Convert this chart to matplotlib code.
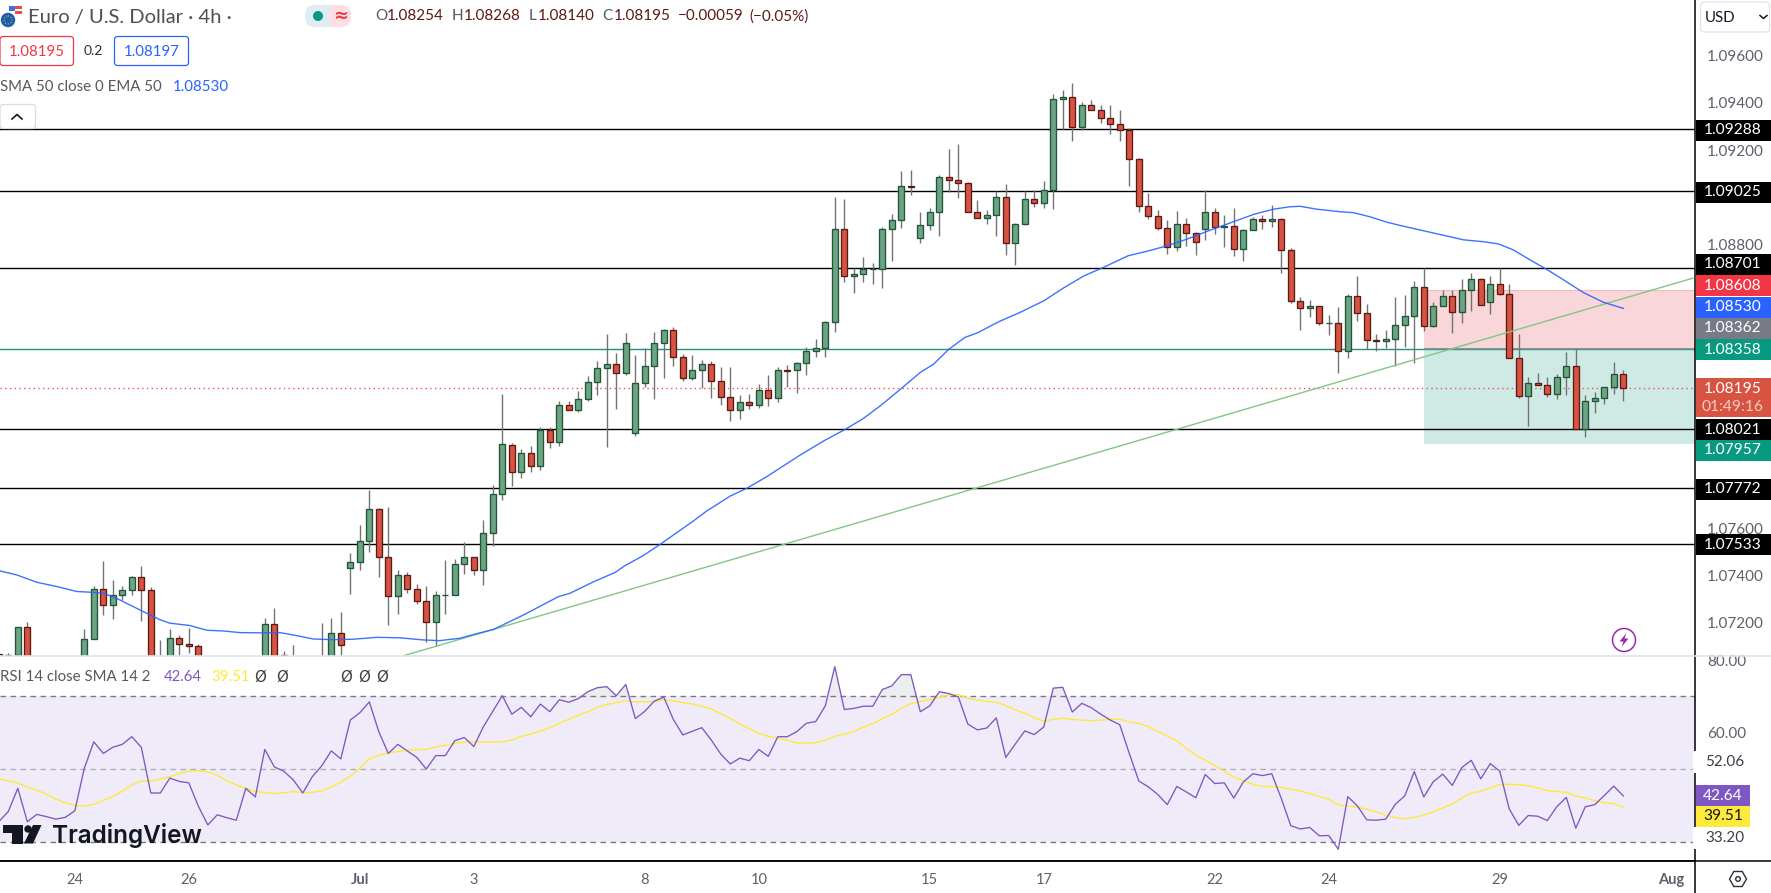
import matplotlib
matplotlib.use("Agg")
import matplotlib.pyplot as plt
from matplotlib.patches import Rectangle, FancyBboxPatch, Polygon, Circle

plt.rcParams['font.family'] = ['Lato', 'DejaVu Sans']

W, H = 1771, 893

opens = [
 1.07068,1.07040,1.07062,1.07181,1.07030,1.07010,1.06990,1.07020,1.07000,1.07035,
 1.07130,1.07341,1.07274,1.07316,1.07337,1.07392,1.07337,1.07020,1.07042,1.07134,
 1.07109,1.07100,1.07040,1.07010,1.07030,1.07005,1.07020,1.07000,1.07040,1.07193,
 1.07062,1.07030,1.07040,1.07010,1.07020,1.07030,1.07155,1.07430,1.07456,1.07545,
 1.07680,1.07477,1.07312,1.07401,1.07341,1.07291,1.07202,1.07316,1.07316,1.07447,
 1.07477,1.07422,1.07578,1.07744,1.07954,1.07836,1.07920,1.07861,1.08015,1.07966,
 1.08120,1.08101,1.08145,1.08217,1.08276,1.08293,1.08255,1.08001,1.08213,1.08285,
 1.08382,1.08437,1.08323,1.08234,1.08268,1.08293,1.08221,1.08153,1.08098,1.08132,
 1.08120,1.08183,1.08149,1.08268,1.08268,1.08297,1.08348,1.08361,1.08471,1.08864,
 1.08665,1.08674,1.08695,1.08695,1.08864,1.08902,1.09046,1.08826,1.08881,1.08936,
 1.09084,1.09072,1.09059,1.08936,1.08911,1.08924,1.09000,1.08805,1.08886,1.08991,
 1.08974,1.09029,1.09415,1.09423,1.09296,1.09389,1.09368,1.09334,1.09309,1.09283,
 1.09161,1.08962,1.08919,1.08869,1.08788,1.08886,1.08847,1.08864,1.08936,1.08874,
 1.08877,1.08780,1.08860,1.08907,1.08898,1.08907,1.08775,1.08560,1.08530,1.08538,
 1.08467,1.08467,1.08348,1.08581,1.08509,1.08395,1.08390,1.08399,1.08459,1.08497,
 1.08620,1.08455,1.08539,1.08582,1.08514,1.08607,1.08654,1.08556,1.08632,1.08590,
 1.08319,1.08159,1.08214,1.08205,1.08167,1.08239,1.08286,1.08019,1.08138,1.08150,
 1.08197,1.08254]
highs = [
 1.07068,1.07073,1.07181,1.07203,1.07045,1.07040,1.07030,1.07050,1.07045,1.07172,
 1.07356,1.07461,1.07381,1.07356,1.07398,1.07440,1.07351,1.07127,1.07174,1.07148,
 1.07178,1.07110,1.07050,1.07045,1.07050,1.07040,1.07050,1.07040,1.07219,1.07261,
 1.07081,1.07106,1.07050,1.07045,1.07198,1.07219,1.07244,1.07494,1.07614,1.07762,
 1.07684,1.07690,1.07423,1.07413,1.07363,1.07356,1.07333,1.07466,1.07468,1.07542,
 1.07477,1.07635,1.07783,1.08168,1.07960,1.07935,1.07947,1.08026,1.08026,1.08138,
 1.08138,1.08182,1.08244,1.08307,1.08421,1.08340,1.08426,1.08333,1.08362,1.08430,
 1.08441,1.08451,1.08335,1.08333,1.08311,1.08307,1.08282,1.08282,1.08163,1.08167,
 1.08210,1.08248,1.08280,1.08290,1.08303,1.08366,1.08400,1.08476,1.09001,1.08993,
 1.08699,1.08747,1.08722,1.08873,1.08929,1.09111,1.09115,1.08936,1.08955,1.09093,
 1.09204,1.09225,1.09065,1.08989,1.08946,1.09027,1.09056,1.08890,1.09027,1.09031,
 1.09069,1.09437,1.09454,1.09484,1.09403,1.09412,1.09391,1.09391,1.09369,1.09292,
 1.09165,1.09018,1.08946,1.08904,1.08942,1.08912,1.08853,1.09031,1.08955,1.08925,
 1.08955,1.08864,1.08918,1.08925,1.08967,1.08912,1.08785,1.08578,1.08565,1.08541,
 1.08502,1.08536,1.08591,1.08667,1.08548,1.08421,1.08438,1.08578,1.08587,1.08647,
 1.08700,1.08558,1.08606,1.08608,1.08654,1.08680,1.08660,1.08668,1.08700,1.08632,
 1.08421,1.08240,1.08256,1.08238,1.08252,1.08345,1.08359,1.08164,1.08176,1.08197,
 1.08304,1.08268]
lows = [
 1.07020,1.07030,1.07050,1.07010,1.06990,1.06960,1.06950,1.06980,1.06970,1.07010,
 1.07130,1.07233,1.07217,1.07296,1.07318,1.07209,1.07000,1.06990,1.07020,1.07057,
 1.07073,1.07020,1.06990,1.06980,1.06990,1.06970,1.06985,1.06975,1.07010,1.07010,
 1.07010,1.06990,1.06990,1.06980,1.06990,1.07000,1.07049,1.07323,1.07423,1.07497,
 1.07395,1.07191,1.07237,1.07327,1.07279,1.07120,1.07102,1.07237,1.07316,1.07406,
 1.07402,1.07360,1.07526,1.07719,1.07779,1.07813,1.07836,1.07847,1.07940,1.07947,
 1.08101,1.08093,1.08139,1.08163,1.07945,1.08104,1.08249,1.07991,1.08199,1.08148,
 1.08237,1.08287,1.08224,1.08228,1.08194,1.08152,1.08122,1.08055,1.08063,1.08105,
 1.08110,1.08118,1.08135,1.08197,1.08173,1.08249,1.08323,1.08323,1.08431,1.08643,
 1.08596,1.08643,1.08634,1.08617,1.08732,1.08871,1.09011,1.08808,1.08863,1.08838,
 1.09024,1.08998,1.08936,1.08911,1.08888,1.08838,1.08757,1.08715,1.08881,1.08960,
 1.08956,1.08952,1.09288,1.09240,1.09283,1.09368,1.09316,1.09266,1.09240,1.09049,
 1.08939,1.08910,1.08862,1.08761,1.08774,1.08795,1.08757,1.08821,1.08846,1.08791,
 1.08753,1.08732,1.08860,1.08867,1.08876,1.08681,1.08551,1.08440,1.08495,1.08458,
 1.08419,1.08258,1.08321,1.08478,1.08359,1.08351,1.08364,1.08286,1.08365,1.08301,
 1.08436,1.08451,1.08539,1.08425,1.08470,1.08517,1.08544,1.08508,1.08585,1.08319,
 1.08150,1.08032,1.08205,1.08154,1.08146,1.08163,1.08019,1.07984,1.08087,1.08125,
 1.08167,1.08140]
closes = [
 1.07040,1.07062,1.07181,1.07030,1.07010,1.06990,1.07020,1.07000,1.07025,1.07130,
 1.07341,1.07274,1.07316,1.07337,1.07392,1.07337,1.07028,1.07040,1.07134,1.07109,
 1.07100,1.07040,1.07010,1.07030,1.07005,1.07020,1.07000,1.07030,1.07193,1.07040,
 1.07040,1.07040,1.07010,1.07030,1.07040,1.07155,1.07104,1.07456,1.07545,1.07680,
 1.07477,1.07312,1.07401,1.07341,1.07291,1.07202,1.07316,1.07318,1.07447,1.07477,
 1.07422,1.07578,1.07744,1.07955,1.07836,1.07920,1.07861,1.08015,1.07966,1.08120,
 1.08101,1.08145,1.08217,1.08276,1.08293,1.08255,1.08382,1.08213,1.08285,1.08382,
 1.08437,1.08323,1.08234,1.08268,1.08293,1.08221,1.08153,1.08098,1.08132,1.08120,
 1.08183,1.08149,1.08268,1.08266,1.08297,1.08348,1.08361,1.08471,1.08864,1.08665,
 1.08674,1.08695,1.08697,1.08864,1.08902,1.09046,1.09044,1.08881,1.08936,1.09084,
 1.09072,1.09059,1.08936,1.08911,1.08924,1.09000,1.08805,1.08886,1.08991,1.08974,
 1.09029,1.09415,1.09423,1.09296,1.09389,1.09368,1.09334,1.09309,1.09283,1.09161,
 1.08962,1.08919,1.08869,1.08788,1.08886,1.08847,1.08809,1.08936,1.08873,1.08877,
 1.08780,1.08860,1.08907,1.08898,1.08907,1.08775,1.08560,1.08530,1.08538,1.08467,
 1.08469,1.08348,1.08581,1.08509,1.08395,1.08393,1.08399,1.08458,1.08497,1.08620,
 1.08455,1.08539,1.08582,1.08514,1.08607,1.08654,1.08544,1.08632,1.08590,1.08319,
 1.08159,1.08214,1.08205,1.08167,1.08239,1.08286,1.08019,1.08138,1.08150,1.08197,
 1.08252,1.08195]

ema_bars = [0.13,1.9,4.0,6.1,8.2,9.6,11.0,12.4,15.2,17.0,18.0,20.1,21.9,23.6,25.4,27.5,29.6,31.4,33.1,35.2,
 37.3,39.8,42.2,44.7,46.4,48.5,50.65,52.05,55.2,58.9,60.1,62.6,64.9,65.9,67.8,69.6,73.1,74.5,77.0,78.7,
 80.8,84.3,87.0,89.1,91.0,92.9,95.0,97.0,98.4,100.0,101.7,103.1,104.7,105.4,107.5,110.0,112.1,114.2,116.3,118.9,
 120.8,122.9,125.0,127.2,129.3,132.1,134.2,135.9,137.0,138.7,141.2,142.6,144.3,146.1,147.5,154.2,156.3,157.85,159.4,161.2,
 162.9,164.7,166.8,168.9,171.0]
ema_values = [1.07419,1.07402,1.07371,1.07353,1.07332,1.07329,1.07325,1.07303,1.07247,1.07212,1.07198,1.07188,1.07168,1.07165,1.07158,1.07157,1.07158,1.07145,1.07131,1.07128,
 1.07130,1.07138,1.07136,1.07127,1.07124,1.07134,1.07157,1.07171,1.07232,1.07310,1.07324,1.07373,1.07413,1.07441,1.07483,1.07531,1.07630,1.07672,1.07736,1.07768,
 1.07817,1.07908,1.07973,1.08018,1.08064,1.08121,1.08191,1.08259,1.08294,1.08357,1.08407,1.08428,1.08462,1.08476,1.08513,1.08562,1.08617,1.08667,1.08704,1.08753,
 1.08771,1.08794,1.08822,1.08856,1.08887,1.08928,1.08950,1.08960,1.08962,1.08950,1.08939,1.08935,1.08918,1.08895,1.08881,1.08820,1.08812,1.08803,1.08778,1.08735,
 1.08696,1.08651,1.08597,1.08556,1.08530]

rsi = [35.5,38.3,44.7,35.5,37.5,36.9,36.2,36.7,38.5,50.2,57.5,54.3,56.0,56.8,58.9,56.0,43.4,43.4,47.5,46.6,
 46.2,39.8,34.6,37.4,36.6,35.9,44.7,42.3,55.4,50.6,49.4,47.0,43.4,47.9,50.9,55.0,52.8,63.5,65.5,68.5,
 60.3,54.3,56.8,55.0,53.2,50.0,53.7,53.7,57.8,58.7,56.2,61.6,65.9,70.2,65.1,67.0,64.4,67.9,65.8,69.1,
 68.4,69.4,71.3,72.4,72.7,70.2,73.3,63.9,65.9,68.7,69.8,63.7,59.4,60.4,61.4,58.0,54.1,51.4,53.0,52.3,
 55.4,53.5,58.9,58.9,60.3,62.6,63.1,67.4,78.2,66.4,66.7,67.3,67.3,71.9,72.9,76.0,76.0,65.8,67.4,71.3,
 70.8,69.9,62.4,60.8,61.3,64.1,53.2,56.9,60.5,59.5,61.6,72.3,72.5,65.7,68.1,66.9,65.1,63.5,62.2,54.3,
 46.7,45.1,43.0,40.2,45.2,43.7,42.1,48.5,46.0,46.2,42.0,46.4,48.7,48.2,48.7,41.9,34.4,33.5,33.9,31.6,
 31.7,27.9,42.4,39.9,36.0,35.9,36.2,40.3,42.6,49.3,42.3,46.5,48.6,45.5,50.4,52.4,47.3,51.5,49.4,39.0,
 34.5,37.2,37.0,35.8,39.6,42.2,33.7,39.6,40.2,42.7,45.3,42.6]
rsi_sma = [47.4,46.7,46.2,45.0,44.2,43.1,41.7,40.7,40.0,39.8,40.3,41.4,42.4,43.9,45.6,46.7,46.7,47.2,47.9,48.8,
 49.4,49.6,49.2,48.3,46.8,45.6,44.7,43.9,43.5,43.2,43.5,43.8,43.5,43.6,44.0,45.1,46.4,48.0,50.2,52.7,
 53.8,54.5,54.8,55.2,55.3,55.4,56.1,56.5,57.1,57.4,57.5,57.5,57.4,57.5,58.0,59.0,59.6,60.5,61.3,62.6,
 63.7,64.9,65.8,66.9,67.8,68.3,68.8,68.5,68.5,68.6,69.1,68.8,68.3,67.9,67.3,66.6,65.2,63.9,62.5,61.1,
 59.8,59.0,58.5,57.9,57.2,57.1,57.3,57.9,59.0,59.6,60.4,61.5,62.5,63.9,65.1,66.7,68.0,68.6,69.1,69.7,
 70.4,70.5,69.5,69.0,68.6,68.4,67.5,66.3,65.4,64.1,63.2,63.7,64.0,63.7,63.5,63.3,63.5,63.7,63.7,63.0,
 62.6,61.7,60.3,59.1,57.8,55.7,53.8,52.4,50.9,49.4,47.9,46.8,45.8,45.2,45.2,45.0,44.4,44.0,43.2,42.4,
 41.7,40.1,39.8,39.5,38.9,38.2,37.3,36.6,36.3,36.7,37.3,38.2,39.3,40.4,42.0,43.5,43.8,44.8,45.7,45.8,
 45.7,45.4,44.8,44.0,43.8,43.6,42.6,42.0,41.3,40.7,40.5,39.5]

black_levels = [1.09288, 1.09025, 1.08701, 1.08021, 1.07772, 1.07533]
teal_level = 1.08358
last_price = 1.08195
stop_price = 1.08608
target_price = 1.07957
position_start_bar = 150
trend_bars = [42.6, 178.5]
trend_prices = [1.07060, 1.08660]
price_ticks = [1.072, 1.074, 1.076, 1.088, 1.092, 1.094, 1.096]
date_bars = [8,20,38,50,68,80,98,110,128,140,158,176]
date_labels = ['24','26','Jul','3','8','10','15','17','22','24','29','Aug']
rsi_ticks = [80, 60]

fig = plt.figure(figsize=(W/100, H/100), dpi=100, facecolor='white')
def axrect(x0, y0, x1, y1):
    return [x0/W, 1-y1/H, (x1-x0)/W, (y1-y0)/H]

XLIM = (0.126, 178.55)
ax = fig.add_axes(axrect(0, 0, 1695, 656))
rs = fig.add_axes(axrect(0, 656.5, 1695, 861))
ui = fig.add_axes([0, 0, 1, 1], zorder=20)
ui.set_xlim(0, W); ui.set_ylim(H, 0); ui.axis('off'); ui.patch.set_alpha(0)

# ---- price pane
ax.set_xlim(*XLIM); ax.set_ylim(1.07059, 1.09835)
bars = list(range(len(opens)))
GREEN, GEDGE, RED, REDGE, WICK = '#6BA583', '#225437', '#D75442', '#5B1A13', '#737375'
ax.add_patch(Rectangle((position_start_bar, teal_level), XLIM[1]-position_start_bar, stop_price-teal_level,
                       fc='#f9d6d9', ec='none', zorder=1))
ax.add_patch(Rectangle((position_start_bar, target_price), XLIM[1]-position_start_bar, teal_level-target_price,
                       fc='#cfeae4', ec='none', zorder=1))
ax.hlines(stop_price, position_start_bar, XLIM[1], color='#f4b8bd', lw=0.8, zorder=1.5)
for lv in black_levels:
    ax.axhline(lv, color='black', lw=1.0, zorder=2)
ax.axhline(teal_level, color='#22917c', lw=1.0, zorder=2)
ax.hlines(teal_level, position_start_bar, XLIM[1], color='#6f8f8c', lw=1.2, zorder=2.1)
ax.vlines(bars, lows, highs, color=WICK, lw=1.0, zorder=3)
cols = [GREEN if c >= o else RED for o, c in zip(opens, closes)]
edges = [GEDGE if c >= o else REDGE for o, c in zip(opens, closes)]
ax.bar(bars, [abs(c-o) for o, c in zip(opens, closes)], bottom=[min(o, c) for o, c in zip(opens, closes)],
       width=0.6, color=cols, edgecolor=edges, linewidth=0.95, zorder=4)
ax.plot(trend_bars, trend_prices, color='#81c784', lw=1.0, zorder=5, solid_capstyle='butt')
ax.plot(ema_bars, ema_values, color='#2962ff', lw=1.0, alpha=0.9, zorder=5.2)
ax.axhline(last_price, color='#ef5350', lw=1.0, ls=(0, (1, 2.4)), zorder=3.5)

ax.yaxis.tick_right()
ax.set_yticks(price_ticks)
ax.set_yticklabels(['%.5f' % t for t in price_ticks])
ax.tick_params(axis='y', length=0, pad=8.5, labelsize=11, labelcolor='#5d606b')
ax.set_xticks([])
for s in ['top', 'left', 'bottom']:
    ax.spines[s].set_visible(False)
ax.spines['right'].set_color('black'); ax.spines['right'].set_linewidth(1.1)

# ---- RSI pane
rs.set_xlim(*XLIM); rs.set_ylim(24.67, 81.0)
rs.axhspan(30, 70, color='#7e57c2', alpha=0.115, lw=0, zorder=1)
rs.axhline(70, color='#787b86', lw=1.0, ls=(0, (4, 3.2)), zorder=2)
rs.axhline(50, color='#787b86', lw=1.0, ls=(0, (4, 3.2)), alpha=0.55, zorder=2)
rs.axhline(30, color='#787b86', lw=1.0, ls=(0, (4, 3.2)), zorder=2)
rs.fill_between(bars, 70, rsi, where=[v > 70 for v in rsi], interpolate=True, color='#e6e7e9', alpha=0.75, lw=0, zorder=1.5)
rs.plot(bars, rsi_sma, color='#fdea3c', lw=1.0, zorder=3)
rs.plot(bars, rsi, color='#7e57c2', lw=0.95, zorder=4)
rs.yaxis.tick_right()
rs.set_yticks(rsi_ticks)
rs.set_yticklabels(['%.2f' % t for t in rsi_ticks])
rs.tick_params(axis='y', length=0, pad=8.5, labelsize=11, labelcolor='#5d606b')
rs.set_xticks(date_bars)
rs.set_xticklabels(date_labels)
rs.tick_params(axis='x', length=0, pad=8.5, labelsize=10.5, labelcolor='#5d606b')
for lab in rs.get_xticklabels():
    if lab.get_text() in ('Jul', 'Aug'):
        lab.set_fontweight('bold')
for s in ['top', 'left']:
    rs.spines[s].set_visible(False)
rs.spines['right'].set_color('black'); rs.spines['right'].set_linewidth(1.1)
rs.spines['bottom'].set_color('black'); rs.spines['bottom'].set_linewidth(1.1)

# ---- chrome
ui.plot([0, W], [656, 656], color='#e0e3eb', lw=1.2)
ui.plot([0, W], [861, 861], color='black', lw=1.1)
ui.plot([1695.5, 1695.5], [861, 893], color='black', lw=1.1)

def tag(yc, txt, fc, tc='white', x1=W, h=21):
    ui.add_patch(Rectangle((1695.8, yc-h/2), x1-1695.8, h, fc=fc, ec='none', zorder=6))
    ui.text((1696+x1)/2 if x1 != W else 1732.5, yc, txt, color=tc, ha='center', va='center', fontsize=11.2, zorder=7)

tag(130, '1.09288', '#000000')
tag(192, '1.09025', '#000000')
tag(264.5, '1.08701', '#000000')
tag(285.5, '1.08608', '#f23645')
tag(307, '1.08530', '#2962ff')
tag(328.3, '1.08362', '#787b86')
tag(349.6, '1.08358', '#089981')
ui.add_patch(Rectangle((1695.8, 378), W-1695.8, 38.7, fc='#d75442', ec='none', zorder=6))
ui.text(1732.5, 388.6, '1.08195', color='white', ha='center', va='center', fontsize=11.2, zorder=7)
ui.text(1732.5, 406.6, '01:49:16', color='#f6c9c2', ha='center', va='center', fontsize=11.2, zorder=7)
tag(429.7, '1.08021', '#000000')
tag(450.4, '1.07957', '#089981')
tag(489, '1.07772', '#000000')
tag(544.6, '1.07533', '#000000')
tag(795.5, '42.64', '#7e57c2', x1=1750)
tag(816.5, '39.51', '#fdea3c', tc='#131722', x1=1750)
for y, t in [(761.7, '52.06'), (838.3, '33.20')]:
    ui.add_patch(Rectangle((1693, y-11), 60, 22, fc='white', ec='none', zorder=5))
    ui.text(1725, y, t, color='#3c3f47', ha='center', va='center', fontsize=11, zorder=7)

# header
ui.add_patch(Circle((8, 20), 7.2, fc='#1c5cad', ec='none', zorder=3))
ui.add_patch(Circle((8, 20), 4, fc='none', ec='#d9b93b', lw=0.8, ls=':', zorder=3.1))
ui.add_patch(Circle((16, 12), 7.2, fc='white', ec='none', zorder=2.9))
ui.add_patch(Rectangle((12, 5.5), 10, 3, fc='#e84a4a', ec='none', zorder=3))
ui.add_patch(Rectangle((15, 11), 7.5, 3, fc='#e84a4a', ec='none', zorder=3))
ui.add_patch(Rectangle((9.5, 5.5), 5.5, 5.5, fc='#3f6fd8', ec='none', zorder=3))
ui.text(28, 17.5, 'Euro / U.S. Dollar · 4h ·', color='#4c4f58', fontsize=14.5, va='center', ha='left')
ui.add_patch(FancyBboxPatch((309, 5), 42, 22, boxstyle='round,pad=0,rounding_size=10', fc='#fbdfe4', ec='none', mutation_aspect=1))
ui.add_patch(FancyBboxPatch((305, 5), 25, 22, boxstyle='round,pad=0,rounding_size=10', fc='#dfecf4', ec='none'))
ui.add_patch(Rectangle((318, 5), 12, 22, fc='#dfecf4', ec='none'))
ui.add_patch(Circle((318, 16), 5, fc='#089981', ec='none', zorder=3))
ui.text(341, 16, '≈', color='#f23645', fontsize=13, ha='center', va='center', family=['DejaVu Sans'], fontweight='bold')
GREY_T, VAL_T = '#55585f', '#5b1a13'
for x, t, c in [(375, 'O', GREY_T), (387, '1.08254', VAL_T), (452, 'H', GREY_T), (464, '1.08268', VAL_T),
                (529, 'L', GREY_T), (538, '1.08140', VAL_T), (602, 'C', GREY_T), (614, '1.08195', VAL_T),
                (678, '−0.00059', VAL_T), (749, '(−0.05%)', VAL_T)]:
    ui.text(x, 16.5, t, color=c, fontsize=11, va='center', ha='left')
ui.add_patch(FancyBboxPatch((0, 36.5), 73.5, 29, boxstyle='round,pad=0,rounding_size=3', fc='white', ec='#f23645', lw=0.9))
ui.text(37, 51.5, '1.08195', color='#f23645', fontsize=10.8, ha='center', va='center')
ui.text(93.5, 51, '0.2', color='#2a2e39', fontsize=10, ha='center', va='center')
ui.add_patch(FancyBboxPatch((114.5, 36.5), 74, 29, boxstyle='round,pad=0,rounding_size=3', fc='white', ec='#2962ff', lw=0.9))
ui.text(152, 51.5, '1.08197', color='#2962ff', fontsize=10.8, ha='center', va='center')
ui.text(0, 87, 'SMA 50 close 0 EMA 50', color='#55585f', fontsize=10.8, ha='left', va='center')
ui.text(173, 87, '1.08530', color='#2962ff', fontsize=10.8, ha='left', va='center')
ui.add_patch(FancyBboxPatch((0, 104.5), 35.5, 24, boxstyle='round,pad=0,rounding_size=3', fc='white', ec='#d8dbe3', lw=0.9))
ui.plot([12, 17, 22], [119, 114.5, 119], color='#131722', lw=1.2)

ui.text(0, 677, 'RSI 14 close SMA 14 2', color='#55585f', fontsize=10.8, ha='left', va='center')
ui.text(164, 677, '42.64', color='#7e57c2', fontsize=10.8, ha='left', va='center')
ui.text(211, 677, '39.51', color='#fdea3c', fontsize=10.8, ha='left', va='center')
for x in [260, 282, 346, 364, 382]:
    ui.text(x, 677, 'Ø', color='#3c3f47', fontsize=10.8, ha='center', va='center', family=['DejaVu Sans'])

# USD selector
ui.add_patch(FancyBboxPatch((1700.5, 2), 69, 30, boxstyle='round,pad=0,rounding_size=4', fc='white', ec='#e0e3eb', lw=0.9))
ui.text(1705, 17.5, 'USD', color='#131722', fontsize=10.8, ha='left', va='center')
ui.plot([1760, 1763.5, 1767], [15.5, 18.5, 15.5], color='#131722', lw=1.1)

# TradingView watermark
ui.add_patch(Polygon([(3, 825), (23, 825), (23, 843.5), (12, 843.5), (12, 833), (3, 833)], fc='#131722', ec='none', zorder=8))
ui.add_patch(Circle((28, 829), 3.7, fc='#131722', ec='none', zorder=8))
ui.add_patch(Polygon([(33, 825), (41.5, 825), (33, 843.5), (24, 843.5)], fc='#131722', ec='none', zorder=8))
ui.text(52, 843, 'TradingView', color='#131722', fontsize=17.5, family=['Inter', 'DejaVu Sans'], fontweight='semibold',
        ha='left', va='baseline', zorder=8)

# replay-style icon & settings icon
ui.add_patch(Circle((1624, 640), 11.5, fc='white', ec='#9c27b0', lw=1.1, zorder=8))
ui.add_patch(Polygon([(1626.5, 633), (1619.5, 641.5), (1623.5, 641.5), (1621.5, 647), (1628.5, 638.5), (1624.5, 638.5)],
                     fc='#9c27b0', ec='none', zorder=9))
ui.add_patch(Polygon([(1729.5, 879), (1733.8, 871.5), (1742.2, 871.5), (1746.5, 879), (1742.2, 886.5), (1733.8, 886.5)],
                     fc='white', ec='#2a2e39', lw=1.0, zorder=8))
ui.add_patch(Circle((1738, 879), 2.3, fc='white', ec='#2a2e39', lw=1.0, zorder=9))

fig.savefig('out.png', dpi=100, facecolor='white')
